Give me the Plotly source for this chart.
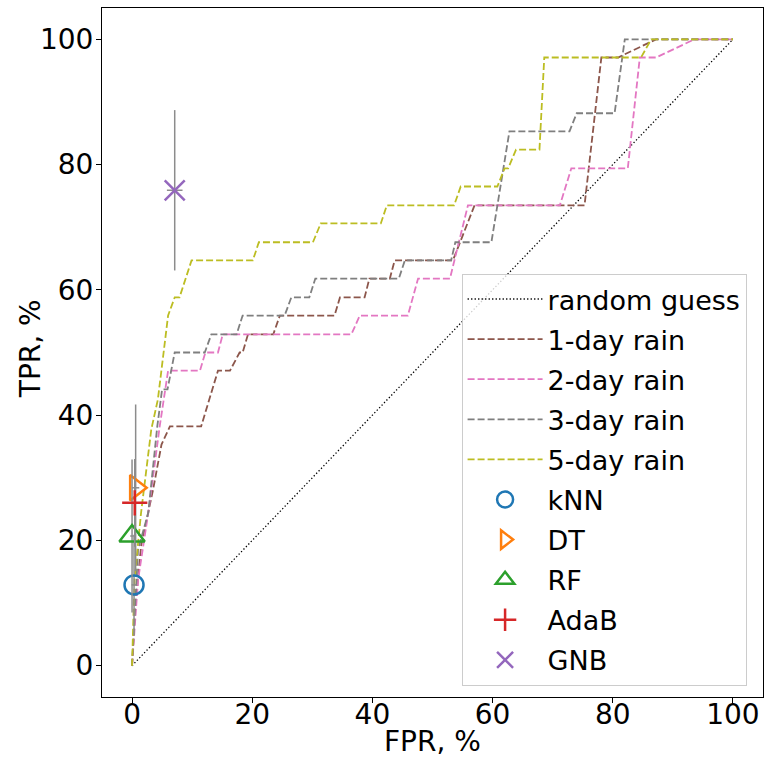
import plotly.graph_objects as go

# ROC curves (FPR %, TPR %)
one_day_fpr = [0, 0.5, 1.5, 2.5, 3.5, 4.9, 6.3, 11.5, 14.3, 16.3, 17.9, 18.4, 19.3, 23.5, 24.6, 33.7, 34.6, 38.7, 39.5, 42.9, 43.7, 53.4, 57.0, 75.3, 78.1, 80.9, 87.2, 100]
one_day_tpr = [0, 8.8, 19.1, 23.5, 28.1, 35.3, 38.2, 38.2, 47.1, 47.1, 50.0, 50.0, 52.9, 52.9, 55.9, 55.9, 58.8, 58.8, 61.8, 61.8, 64.7, 64.7, 73.5, 73.5, 97.1, 97.1, 100, 100]

two_day_fpr = [0, 1.0, 2.7, 4.6, 6.0, 11.3, 12.2, 14.3, 15.1, 36.5, 37.9, 45.9, 47.6, 52.9, 55.9, 71.2, 73.1, 82.5, 84.5, 87.2, 93.6, 100]
two_day_tpr = [0, 13.7, 24.4, 38.2, 47.1, 47.1, 50.0, 50.0, 52.9, 52.9, 55.9, 55.9, 61.8, 61.8, 73.5, 73.5, 79.4, 79.4, 97.1, 97.1, 100, 100]

three_day_fpr = [0, 1.0, 2.7, 4.2, 5.0, 5.9, 7.1, 12.1, 13.2, 17.4, 18.4, 25.4, 26.5, 29.5, 30.5, 44.4, 45.4, 53.1, 53.8, 59.8, 62.8, 72.8, 74.0, 80.3, 82.0, 100]
three_day_tpr = [0, 18.5, 24.4, 38.2, 44.1, 44.1, 50.0, 50.0, 52.9, 52.9, 55.9, 55.9, 58.8, 58.8, 61.8, 61.8, 64.7, 64.7, 67.6, 67.6, 85.3, 85.3, 88.2, 88.2, 100, 100]

five_day_fpr = [0, 0.4, 1.5, 3.2, 4.3, 4.9, 5.3, 5.6, 6.0, 7.1, 7.9, 9.9, 20.1, 21.1, 30.1, 31.4, 41.4, 42.4, 53.6, 54.7, 60.8, 62.0, 62.6, 63.9, 67.8, 68.6, 84.7, 86.4, 100]
five_day_tpr = [0, 13.7, 24.4, 37.7, 42.5, 47.1, 50.0, 52.9, 55.9, 58.8, 58.8, 64.7, 64.7, 67.6, 67.6, 70.6, 70.6, 73.5, 73.5, 76.5, 76.5, 79.4, 79.4, 82.4, 82.4, 97.1, 97.1, 100, 100]

random_fpr = [0, 100]
random_tpr = [0, 100]

# Classifier points with errors
models = ["kNN", "DT", "RF", "AdaB", "GNB"]
model_fpr = [0.33, 0.6, 0.0, 0.45, 7.1]
model_tpr = [12.9, 28.4, 20.7, 26.0, 75.9]
model_fpr_err = [0.4, 0.6, 0.3, 0.5, 1.3]
model_tpr_err = [8.0, 13.3, 12.2, 7.0, 12.8]

curve_names = ["1-day rain", "2-day rain", "3-day rain", "5-day rain"]
curve_colors = ["#8c564b", "#e377c2", "#7f7f7f", "#bcbd22"]
model_colors = ["#1f77b4", "#ff7f0e", "#2ca02c", "#d62728", "#9467bd"]
model_symbols = ["circle-open", "triangle-right-open", "triangle-up-open", "cross-thin-open", "x-thin-open"]
model_sizes = [19, 22, 22, 18, 20]

FONT = "DejaVu Sans"
FS = 27
TFS = 28

fig = go.Figure()
fig.add_trace(go.Scatter(x=random_fpr, y=random_tpr, mode="lines", name="random guess",
                         legendgroup="g0",
                         line=dict(color="black", width=1.3, dash="1.3px,2.2px")))
curves = [(one_day_fpr, one_day_tpr), (two_day_fpr, two_day_tpr),
          (three_day_fpr, three_day_tpr), (five_day_fpr, five_day_tpr)]
for k, ((fx, ty), nm, c) in enumerate(zip(curves, curve_names, curve_colors)):
    fig.add_trace(go.Scatter(x=fx, y=ty, mode="lines", name=nm, legendgroup=f"c{k}",
                             line=dict(color=c, width=1.8, dash="7px,3px")))
for i, m in enumerate(models):
    fig.add_trace(go.Scatter(
        x=[model_fpr[i]], y=[model_tpr[i]], mode="markers", name=m, legendgroup=f"m{i}",
        marker=dict(symbol=model_symbols[i], size=model_sizes[i], color=model_colors[i],
                    line=dict(color=model_colors[i], width=2.5)),
        error_y=dict(type="data", array=[model_tpr_err[i]], color="#8c8c8c", thickness=1.5, width=0),
        error_x=dict(type="data", array=[model_fpr_err[i]], color="#8c8c8c", thickness=1.5, width=0),
    ))

axis_common = dict(range=[-5, 105], tickvals=[0, 20, 40, 60, 80, 100], ticks="outside", ticklen=5,
                   tickwidth=1, tickcolor="black", showline=True, linecolor="black", linewidth=1,
                   mirror=True, showgrid=False, zeroline=False, automargin=False,
                   tickfont=dict(family=FONT, size=TFS, color="black"))
fig.update_layout(
    width=764, height=757,
    margin=dict(l=102, r=1, t=8, b=60),
    paper_bgcolor="white", plot_bgcolor="white",
    font=dict(family=FONT, size=FS, color="black"),
    xaxis=dict(**axis_common, ticklabelstandoff=-13),
    yaxis=dict(**axis_common, ticklabelstandoff=-3),
    legend=dict(x=0.544, y=0.614, xanchor="left", yanchor="top",
                bgcolor="rgba(255,255,255,0.8)", bordercolor="#cccccc", borderwidth=1,
                font=dict(family=FONT, size=FS, color="black"), itemwidth=75,
                tracegroupgap=2),
    showlegend=True,
    annotations=[
        dict(text="FPR, %", xref="paper", yref="paper", x=0.5, y=-0.0639,
             xanchor="center", yanchor="middle", showarrow=False,
             font=dict(family=FONT, size=TFS, color="black")),
        dict(text="TPR, %", xref="paper", yref="paper", x=-0.1088, y=0.505,
             xanchor="center", yanchor="middle", showarrow=False, textangle=-90,
             font=dict(family=FONT, size=TFS, color="black")),
    ],
)
fig.write_html("out.html")
